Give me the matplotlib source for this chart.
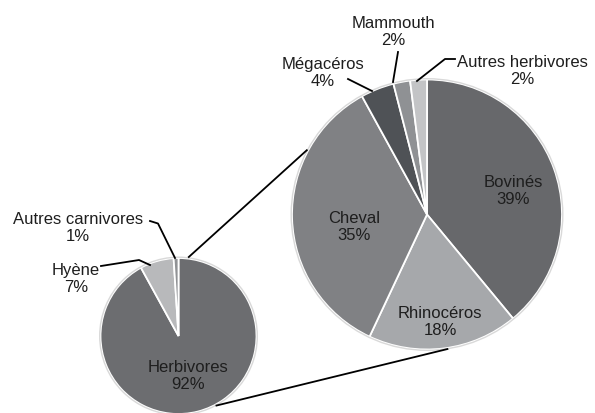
import numpy as np
import matplotlib
matplotlib.use("Agg")
import matplotlib.pyplot as plt

plt.rcParams['font.family'] = ['Liberation Sans', 'DejaVu Sans']

# Faune : répartition globale puis détail des herbivores
main_labels = ["Herbivores", "Hyène", "Autres carnivores"]
main_values = [92, 7, 1]
main_colors = ["#6c6d70", "#b8b9bb", "#909295"]

detail_labels = ["Bovinés", "Rhinocéros", "Cheval", "Mégacéros", "Mammouth", "Autres herbivores"]
detail_values = [39, 18, 35, 4, 2, 2]
detail_colors = ["#67686b", "#a6a8ab", "#808184", "#4f5256", "#8f9194", "#c3c4c6"]

W, H = 595, 414
fig = plt.figure(figsize=(W / 100, H / 100), dpi=100)
ax = fig.add_axes([0, 0, 1, 1])


def yy(y):
    # layout given top-down in pixels
    return H - y


small_c, small_r = (178.5, yy(337)), 78
big_c, big_r = (427, yy(215.5)), 135

wedge_style = dict(edgecolor="white", linewidth=1.3)
ax.pie(main_values, colors=main_colors, startangle=90, counterclock=False,
       center=small_c, radius=small_r, wedgeprops=wedge_style)
ax.pie(detail_values, colors=detail_colors, startangle=90, counterclock=False,
       center=big_c, radius=big_r, wedgeprops=wedge_style)

# thin light rim around each pie
for c, r in [(small_c, small_r), (big_c, big_r)]:
    ax.add_patch(plt.Circle(c, r + 0.8, fill=False, edgecolor="#d9d9d9", linewidth=1.0))


def on_circle(c, r, deg):
    a = np.deg2rad(deg)
    return c[0] + r * np.cos(a), c[1] + r * np.sin(a)


# connector lines between the two pies
for a_small, a_big in [(83, 151.5), (-62, -81)]:
    p0 = on_circle(small_c, small_r + 1, a_small)
    p1 = on_circle(big_c, big_r + 1, a_big)
    ax.plot([p0[0], p1[0]], [p0[1], p1[1]], color="black", linewidth=1.3,
            solid_capstyle="butt")

txt = dict(fontsize=12, color="#1e1e1e", ha="center", va="center", linespacing=1.22)


def label(name, val, x, y):
    ax.text(x, yy(y), f"{name}\n{val}%", **txt)


def leader(points):
    xs = [p[0] for p in points]
    ys = [yy(p[1]) for p in points]
    ax.plot(xs, ys, color="black", linewidth=1.3)


# main pie labels
label(main_labels[0], main_values[0], 188, 376)
label(main_labels[1], main_values[1], 76, 279)
label(main_labels[2], main_values[2], 78, 228)
leader([(101, 267), (139, 261), (150, 266)])
leader([(150, 222), (158, 224.5), (175, 259)])

# detail pie labels
label(detail_labels[0], detail_values[0], 513, 191)
label(detail_labels[1], detail_values[1], 440, 322)
label(detail_labels[2], detail_values[2], 354, 227)
label(detail_labels[3], detail_values[3], 323, 73)
label(detail_labels[4], detail_values[4], 393, 32)
label(detail_labels[5], detail_values[5], 522, 71)
leader([(348, 80), (372, 92)])
leader([(398, 53), (393, 83)])
leader([(455, 60), (445, 60), (417, 82)])

ax.set_xlim(0, W)
ax.set_ylim(0, H)
ax.set_aspect("equal")
ax.axis("off")

fig.savefig("out.png", dpi=100, facecolor="white")
